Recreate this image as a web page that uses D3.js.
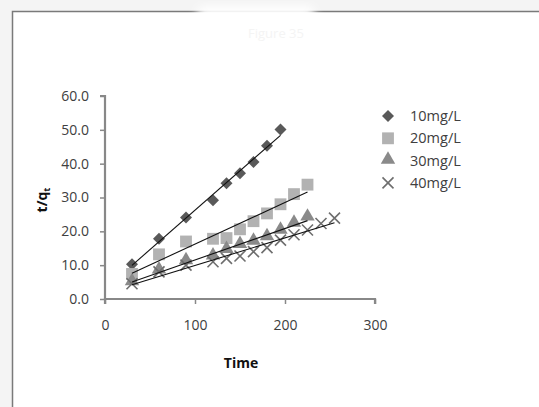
<!DOCTYPE html>
<html>
<head>
<meta charset="utf-8">
<script src="https://cdn.jsdelivr.net/npm/d3@7"></script>
<style>
  html, body { margin: 0; padding: 0; background: #f4f4f4; }
  svg { display: block; }
  text { font-family: "Open Sans", Lato, sans-serif; }
</style>
</head>
<body>
<svg id="chart" width="539" height="407"></svg>
<script>
// Pseudo-second-order kinetics: t/qt against time for four initial concentrations
const seriesNames = ["10mg/L", "20mg/L", "30mg/L", "40mg/L"];

const time10 = [30, 60, 90, 120, 135, 150, 165, 180, 195];
const tq10   = [10.3, 17.8, 24.1, 29.2, 34.2, 37.2, 40.5, 45.3, 50.1];

const time20 = [30, 60, 90, 120, 135, 150, 165, 180, 195, 210, 225];
const tq20   = [7.4, 13.2, 17.0, 17.8, 18.0, 20.6, 23.0, 25.3, 28.0, 31.0, 33.8];

const time30 = [30, 60, 90, 120, 135, 150, 165, 180, 195, 210, 225];
const tq30   = [5.0, 8.5, 11.2, 12.6, 14.5, 16.0, 17.0, 18.3, 20.2, 22.3, 24.1];

const time40 = [30, 60, 90, 120, 135, 150, 165, 180, 195, 210, 225, 240, 255];
const tq40   = [4.5, 8.0, 10.0, 11.0, 12.0, 12.7, 14.0, 15.2, 17.4, 19.0, 20.4, 22.3, 23.9];

const xTicks = [0, 100, 200, 300];
const yTicks = [0, 10, 20, 30, 40, 50, 60];

const svg = d3.select("#chart");
const labelFont = "'Open Sans', Lato, sans-serif";

// Page frame
svg.append("rect")
  .attr("x", 12.5).attr("y", 11.5)
  .attr("width", 560).attr("height", 420)
  .attr("fill", "#ffffff")
  .attr("stroke", "#7a7a7a")
  .attr("stroke-width", 1.5);

// Faded caption at top
const defs = svg.append("defs");
defs.append("filter").attr("id", "soft")
  .append("feGaussianBlur").attr("stdDeviation", 4);
svg.append("rect")
  .attr("x", 196).attr("y", 6).attr("width", 120).attr("height", 48)
  .attr("rx", 10)
  .attr("fill", "#ffffff")
  .attr("filter", "url(#soft)");
svg.append("text")
  .attr("x", 276).attr("y", 38)
  .attr("text-anchor", "middle")
  .attr("font-size", 13)
  .attr("fill", "#f4f4f4")
  .text("Figure 35");

const x = d3.scaleLinear().domain([0, 300]).range([105, 375]);
const y = d3.scaleLinear().domain([0, 60]).range([299, 96]);

// Axes
const axisColor = "#888888";
const gx = svg.append("g")
  .attr("transform", `translate(0,${y(0)})`)
  .call(d3.axisBottom(x).tickValues(xTicks).tickSize(5).tickPadding(16).tickFormat(d3.format("d")));
const gy = svg.append("g")
  .attr("transform", `translate(${x(0)},0)`)
  .call(d3.axisLeft(y).tickValues(yTicks).tickSize(5).tickPadding(11).tickFormat(d3.format(".1f")));

[gx, gy].forEach(g => {
  g.select(".domain").attr("stroke", axisColor).attr("stroke-width", 2.2);
  g.selectAll(".tick line").attr("stroke", axisColor).attr("stroke-width", 1.5);
  g.selectAll(".tick text").attr("fill", "#404040").attr("font-size", 14)
    .attr("font-family", labelFont);
});
gx.select(".domain").attr("d", `M${x(0)},5V0H${x(300)}V5`);
gy.select(".domain").attr("d", `M-5,${y(60)}H0V${y(0)}`);

// Axis titles
svg.append("text")
  .attr("x", 241).attr("y", 368)
  .attr("text-anchor", "middle")
  .attr("font-size", 14).attr("font-weight", "bold")
  .attr("fill", "#111")
  .text("Time");

const yt = svg.append("text")
  .attr("transform", `translate(47,200) rotate(-90)`)
  .attr("text-anchor", "middle")
  .attr("font-size", 14).attr("font-weight", "bold")
  .attr("fill", "#111");
yt.append("tspan").text("t/q");
yt.append("tspan").attr("font-size", 9.5).attr("dy", 3).text("t");

// Marker shapes
const diamond = d3.symbol().type(d3.symbolSquare).size(72)();
const square = d3.symbol().type(d3.symbolSquare).size(140)();
const triangle = d3.symbol().type(d3.symbolTriangle).size(90)();

const series = [
  { name: seriesNames[0], xs: time10, ys: tq10, kind: "diamond", color: "#595959" },
  { name: seriesNames[1], xs: time20, ys: tq20, kind: "square", color: "#b2b2b2" },
  { name: seriesNames[2], xs: time30, ys: tq30, kind: "triangle", color: "#8a8a8a" },
  { name: seriesNames[3], xs: time40, ys: tq40, kind: "cross", color: "#6e6e6e" }
];

function drawMarker(g, kind, color) {
  if (kind === "diamond") {
    g.append("path").attr("d", diamond).attr("transform", "rotate(45)").attr("fill", color);
  } else if (kind === "square") {
    g.append("path").attr("d", square).attr("fill", color);
  } else if (kind === "triangle") {
    g.append("path").attr("d", triangle).attr("transform", "translate(0,-1)").attr("fill", color);
  } else {
    const r = 5.5;
    g.append("path")
      .attr("d", `M${-r},${-r}L${r},${r}M${-r},${r}L${r},${-r}`)
      .attr("stroke", color).attr("stroke-width", 1.6).attr("fill", "none");
  }
}

// Least-squares trend line for each series
function fit(xs, ys) {
  const n = xs.length;
  const mx = d3.mean(xs), my = d3.mean(ys);
  let sxy = 0, sxx = 0;
  for (let i = 0; i < n; i++) { sxy += (xs[i] - mx) * (ys[i] - my); sxx += (xs[i] - mx) ** 2; }
  const b = sxy / sxx;
  return { a: my - b * mx, b };
}

series.forEach(s => {
  const g = svg.append("g");
  s.xs.forEach((xv, i) => {
    const m = g.append("g").attr("transform", `translate(${x(xv)},${y(s.ys[i])})`);
    drawMarker(m, s.kind, s.color);
  });
});

series.forEach(s => {
  const { a, b } = fit(s.xs, s.ys);
  const x0 = d3.min(s.xs), x1 = d3.max(s.xs);
  svg.append("line")
    .attr("x1", x(x0)).attr("y1", y(a + b * x0))
    .attr("x2", x(x1)).attr("y2", y(a + b * x1))
    .attr("stroke", "#111").attr("stroke-width", 1.1);
});

// Legend
const legend = svg.append("g");
series.forEach((s, i) => {
  const ly = 116 + i * 22.3;
  const m = legend.append("g").attr("transform", `translate(388,${ly})`);
  drawMarker(m, s.kind, s.color);
  legend.append("text")
    .attr("x", 410).attr("y", ly + 5)
    .attr("font-size", 14.5)
    .attr("fill", "#404040")
    .text(s.name);
});
</script>
</body>
</html>
